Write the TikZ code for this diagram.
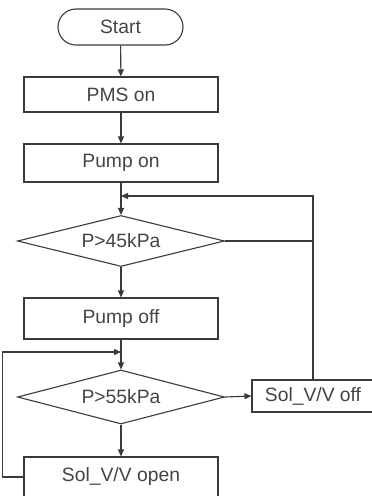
\documentclass[tikz,border=0pt]{standalone}
\usepackage{fontspec}
\setmainfont{Liberation Sans}
\usetikzlibrary{shapes.geometric,arrows.meta}
\definecolor{linec}{HTML}{3A3A3A}
\definecolor{textc}{HTML}{444444}
\begin{document}
\begin{tikzpicture}[x=1pt,y=-1pt,
  base/.style={draw=linec, line width=1.1pt, inner sep=0pt, text=textc, font=\fontsize{19.3}{22}\selectfont},
  stepbox/.style={base, rectangle, minimum width=194pt},
  term/.style={base, rectangle, rounded corners=18pt, minimum width=125pt, minimum height=36pt},
  dia/.style={base, diamond, aspect=4, minimum width=207pt},
  arr/.style={draw=linec, line width=1.1pt, -{Triangle[length=7pt,width=6pt]}},
  ln/.style={draw=linec, line width=1.1pt}]
\useasboundingbox (0,0) rectangle (372,496);
\clip (0,0) rectangle (372,496);
\node[term] (start) at (120.5,27) {Start};
\node[stepbox, minimum height=35pt] (pms) at (121,94.5) {PMS on};
\node[stepbox, minimum height=38pt] (pon) at (121,163) {Pump on};
\node[dia, minimum height=51pt] (d1) at (121,241) {P>45kPa};
\node[stepbox, minimum height=41pt] (poff) at (121,318.5) {Pump off};
\node[dia, minimum height=54pt] (d2) at (121,397) {P>55kPa};
\node[stepbox, minimum height=40pt] (sopen) at (121,477) {Sol\_V/V open};
\node[base, rectangle, minimum width=122pt, minimum height=32pt] (soff) at (313,396) {Sol\_V/V off};
\coordinate (j1) at (121,196);
\coordinate (c1) at (313,196);
\coordinate (j2) at (121,352);
\coordinate (c2) at (2.5,352);
\coordinate (c3) at (2.5,477);
\draw[arr] (start) -- (pms);
\draw[arr] (pms) -- (pon);
\draw[arr] (pon) -- (d1);
\draw[arr] (soff.north) -- (c1) -- (j1);
\draw[ln] (d1.east) -- (d1.east -| c1);
\draw[arr] (d1) -- (poff);
\draw[arr] (poff) -- (d2);
\draw[arr] (d2) -- (sopen);
\draw[arr] (d2.east) -- (soff.west);
\draw[arr] (sopen.west) -- (c3) -- (c2) -- (j2);
\end{tikzpicture}
\end{document}
